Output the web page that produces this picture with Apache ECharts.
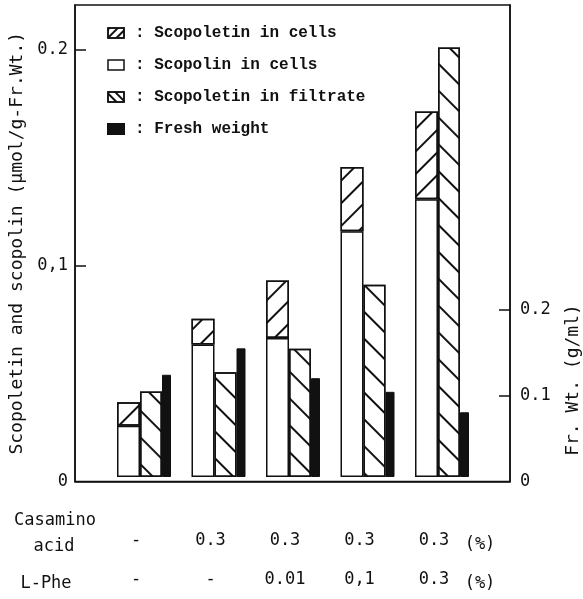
<!DOCTYPE html>
<html>
<head>
<meta charset="utf-8">
<script src="https://cdn.jsdelivr.net/npm/echarts@6/dist/echarts.min.js"></script>
<style>
  html, body { margin: 0; padding: 0; background: #fff; }
  #chart { width: 583px; height: 599px; }
</style>
</head>
<body>
<div id="chart"></div>
<script>
// Culture conditions (one group of bars each)
const categories = ['Control', 'Casamino', 'Casamino + Phe 0.01', 'Casamino + Phe 0.1', 'Casamino + Phe 0.3'];
const casaminoRow = ['-', '0.3', '0.3', '0.3', '0.3'];
const pheRow = ['-', '-', '0.01', '0,1', '0.3'];

// Contents (umol / g fresh weight)
const scopolinCells = [0.024, 0.062, 0.065, 0.115, 0.130];
const scopoletinCells = [0.011, 0.012, 0.027, 0.030, 0.041];
const scopoletinFiltrate = [0.040, 0.049, 0.060, 0.090, 0.201];
// Fresh weight (g/ml)
const freshWeight = [0.120, 0.151, 0.116, 0.100, 0.076];

// Axis ticks
const leftTicks = [0, 0.1, 0.2];
const leftTickLabels = ['0', '0,1', '0.2'];
const rightTicks = [0, 0.1, 0.2];
const rightTickLabels = ['0', '0.1', '0.2'];

const LEFT_MAX = 0.22086;
const RIGHT_MAX = 0.5541;
const AXIS_FONT = 'DejaVu Sans Mono';
const black = '#111';

const chart = echarts.init(document.getElementById('chart'), null, { renderer: 'canvas' });

// diagonal line hatching; rotation sign picks "/" or "\"
const hatch = (rot, gap) => ({
  symbol: 'rect',
  symbolSize: 1,
  color: black,
  dashArrayX: [1, 0],
  dashArrayY: [1.6, gap],
  rotation: rot
});
const RISING = -Math.PI / 4;   // "/"
const FALLING = Math.PI / 4;   // "\"

const gridTop = 5;
const gridHeight = 476.5;
const boxStyle = { color: '#fff', borderColor: black, borderWidth: 1.5 };

chart.setOption({
  animation: false,
  backgroundColor: '#fff',
  grid: [
    { left: 75, right: 73, top: gridTop, height: gridHeight, show: true, borderColor: black, borderWidth: 1.5, backgroundColor: 'transparent' },
    { left: 106.75, right: 103.75, top: gridTop, height: gridHeight }
  ],
  legend: {
    orient: 'vertical',
    left: 102,
    top: 19,
    icon: 'rect',
    itemWidth: 16,
    itemHeight: 10,
    itemGap: 14,
    data: [
      { name: 'Scopoletin in cells', itemStyle: Object.assign({}, boxStyle, { decal: hatch(RISING, 4) }) },
      { name: 'Scopolin in cells', itemStyle: boxStyle },
      { name: 'Scopoletin in filtrate', itemStyle: Object.assign({}, boxStyle, { decal: hatch(FALLING, 4) }) },
      { name: 'Fresh weight' }
    ],
    formatter: n => ': ' + n,
    textStyle: { fontFamily: 'Liberation Mono', fontWeight: 'bold', fontSize: 16, color: black, lineHeight: 18, padding: [0, 0, 0, 6] }
  },
  xAxis: [
    {
      type: 'value', gridIndex: 0, min: 0, max: 1,
      axisLine: { show: true, lineStyle: { color: black, width: 1.5 } },
      axisTick: { show: false }, axisLabel: { show: false }, splitLine: { show: false }
    },
    {
      type: 'category', gridIndex: 1, data: categories,
      axisLine: { show: false }, axisTick: { show: false },
      axisLabel: {
        margin: 44,
        lineHeight: 39,
        padding: [0, 16, 0, 0],
        fontFamily: AXIS_FONT, fontSize: 17, color: black,
        formatter: (v, i) => casaminoRow[i] + '\n' + pheRow[i]
      }
    }
  ],
  yAxis: [
    {
      type: 'value', gridIndex: 0, position: 'left', min: 0, max: LEFT_MAX,
      name: 'Scopoletin and scopolin (\u03bcmol/g-Fr.Wt.)',
      nameLocation: 'middle', nameGap: 40,
      nameTextStyle: { fontFamily: AXIS_FONT, fontSize: 18, color: black },
      axisLine: { show: true, lineStyle: { color: black, width: 1.5 } },
      axisTick: { show: true, inside: true, length: 11, customValues: [0.1, 0.2], lineStyle: { color: black, width: 1.5 } },
      axisLabel: {
        customValues: leftTicks, margin: 7,
        fontFamily: AXIS_FONT, fontSize: 17, color: black,
        formatter: v => leftTickLabels[leftTicks.findIndex(t => Math.abs(t - v) < 1e-9)]
      },
      splitLine: { show: false }
    },
    {
      type: 'value', gridIndex: 0, position: 'right', min: 0, max: RIGHT_MAX,
      axisLine: { show: true, lineStyle: { color: black, width: 1.5 } },
      axisTick: { show: true, inside: true, length: 11, customValues: [0.1, 0.2], lineStyle: { color: black, width: 1.5 } },
      axisLabel: {
        customValues: rightTicks, margin: 10,
        fontFamily: AXIS_FONT, fontSize: 17, color: black,
        formatter: v => rightTickLabels[rightTicks.findIndex(t => Math.abs(t - v) < 1e-9)]
      },
      splitLine: { show: false }
    },
    { type: 'value', gridIndex: 1, min: 0, max: LEFT_MAX, show: false, splitLine: { show: false } },
    { type: 'value', gridIndex: 1, min: 0, max: RIGHT_MAX, show: false, splitLine: { show: false } }
  ],
  series: [
    {
      name: 'Scopolin in cells', type: 'bar', xAxisIndex: 1, yAxisIndex: 2, stack: 'cells',
      barWidth: 23, barGap: '0%', data: scopolinCells,
      itemStyle: boxStyle
    },
    {
      name: 'Scopoletin in cells', type: 'bar', xAxisIndex: 1, yAxisIndex: 2, stack: 'cells',
      barWidth: 23, barGap: '0%', data: scopoletinCells,
      itemStyle: Object.assign({}, boxStyle, { decal: hatch(RISING, 14) })
    },
    {
      name: 'Scopoletin in filtrate', type: 'bar', xAxisIndex: 1, yAxisIndex: 2,
      barWidth: 22, barGap: '0%', data: scopoletinFiltrate,
      itemStyle: Object.assign({}, boxStyle, { decal: hatch(FALLING, 17) })
    },
    {
      name: 'Fresh weight', type: 'bar', xAxisIndex: 1, yAxisIndex: 3,
      barWidth: 9, barGap: '0%', data: freshWeight,
      itemStyle: { color: black, borderColor: black, borderWidth: 1 }
    }
  ],
  graphic: [
    { type: 'text', x: 55, y: 521, style: { text: 'Casamino', font: '17px "DejaVu Sans Mono"', fill: black, align: 'center', verticalAlign: 'middle' } },
    { type: 'text', x: 54, y: 547, style: { text: 'acid', font: '17px "DejaVu Sans Mono"', fill: black, align: 'center', verticalAlign: 'middle' } },
    { type: 'text', x: 46, y: 584, style: { text: 'L-Phe', font: '17px "DejaVu Sans Mono"', fill: black, align: 'center', verticalAlign: 'middle' } },
    { type: 'text', x: 480, y: 545, style: { text: '(%)', font: '17px "DejaVu Sans Mono"', fill: black, align: 'center', verticalAlign: 'middle' } },
    { type: 'text', x: 480, y: 584, style: { text: '(%)', font: '17px "DejaVu Sans Mono"', fill: black, align: 'center', verticalAlign: 'middle' } },
    { type: 'text', x: 573, y: 380, rotation: Math.PI / 2, style: { text: 'Fr. Wt. (g/ml)', font: '18px "DejaVu Sans Mono"', fill: black, align: 'center', verticalAlign: 'middle' } }
  ]
});
</script>
</body>
</html>
